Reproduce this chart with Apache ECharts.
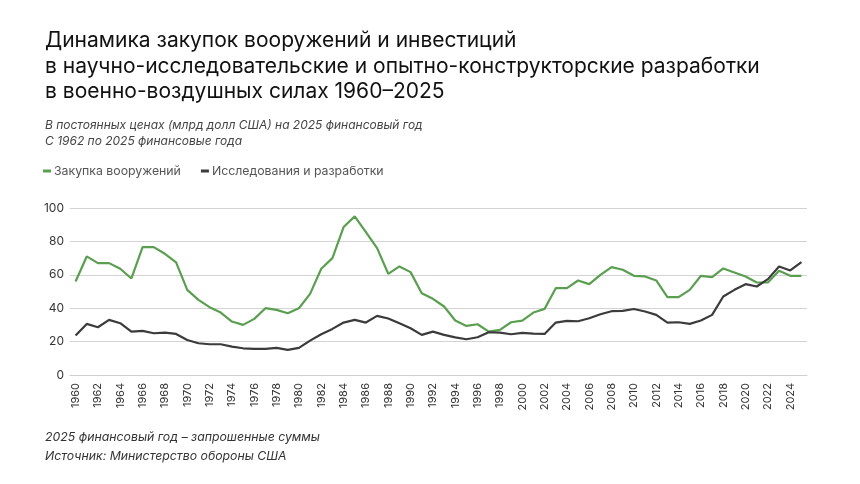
<!DOCTYPE html>
<html>
<head>
<meta charset="utf-8">
<script src="https://cdn.jsdelivr.net/npm/echarts@6/dist/echarts.min.js"></script>
<style>
  html, body { margin: 0; padding: 0; background: #fff; }
  #chart { width: 860px; height: 484px; }
</style>
</head>
<body>
<div id="chart"></div>
<script>
// годы 1960–2025
const years = [];
for (let y = 1960; y <= 2025; y++) years.push(String(y));

// Закупка вооружений, млрд долл
const procurement = [
  56, 71, 67, 67, 63.6, 57.8, 76.6, 76.6, 72.6, 67.4,
  51, 45, 40.6, 37.4, 32, 30, 33.6, 40, 39, 37,
  40, 48.6, 63.6, 70, 88.6, 95, 85.6, 76, 60.6, 65,
  61.6, 49, 45.6, 41, 32.6, 29.4, 30.4, 26, 27, 31.6,
  32.6, 37.4, 39.6, 52, 52, 56.6, 54.4, 60, 64.6, 63,
  59.4, 59, 56.6, 46.6, 46.6, 51, 59.4, 58.6, 63.8, 61.4,
  59, 55.4, 55.4, 62.4, 59.4, 59.4
];

// Исследования и разработки, млрд долл
const rnd = [
  23.6, 30.6, 28.6, 33, 31, 26, 26.4, 25, 25.4, 24.6,
  21, 19, 18.4, 18.4, 17, 16, 15.6, 15.6, 16.2, 15,
  16.2, 20.6, 24.4, 27.6, 31.4, 33, 31.4, 35.4, 33.8, 31,
  28, 24, 26, 24, 22.5, 21.4, 22.6, 25.6, 25.4, 24.4,
  25.2, 24.8, 24.6, 31.4, 32.4, 32.2, 34, 36.4, 38.2, 38.4,
  39.5, 38, 36, 31.4, 31.6, 30.6, 32.6, 36, 47, 51,
  54.4, 53, 57.4, 65, 62.6, 67.6
];

const chart = echarts.init(document.getElementById('chart'));

const option = {
  backgroundColor: '#fff',
  animation: false,
  textStyle: { fontFamily: 'Inter, "Noto Sans", sans-serif' },
  title: [
    {
      text: 'Динамика закупок вооружений и инвестиций\nв научно-исследовательские и опытно-конструкторские разработки\nв военно-воздушных силах 1960–2025',
      left: 40,
      top: 23,
      textStyle: { fontSize: 21, fontWeight: 'normal', color: '#111', lineHeight: 25.5 }
    },
    {
      text: 'В постоянных ценах (млрд долл США) на 2025 финансовый год\nС 1962 по 2025 финансовые года',
      left: 40,
      top: 112,
      textStyle: { fontSize: 12, fontStyle: 'italic', fontWeight: 'normal', color: '#444', lineHeight: 16 }
    },
    {
      text: '2025 финансовый год – запрошенные суммы\nИсточник: Министерство обороны США',
      left: 40,
      top: 423,
      textStyle: { fontSize: 12.3, fontStyle: 'italic', fontWeight: 'normal', color: '#333', lineHeight: 19 }
    }
  ],
  legend: {
    left: 38,
    top: 160,
    icon: 'rect',
    itemWidth: 8,
    itemHeight: 3,
    itemGap: 20,
    textStyle: { fontSize: 12.3, color: '#555', padding: [0, 0, 0, -2] },
    data: ['Закупка вооружений', 'Исследования и разработки']
  },
  grid: { left: 70, right: 53, top: 208, bottom: 109, containLabel: false },
  xAxis: {
    type: 'category',
    data: years,
    boundaryGap: true,
    axisTick: { show: false },
    axisLine: { lineStyle: { color: '#cfcfcf' } },
    axisLabel: { rotate: 90, interval: 1, color: '#333', fontSize: 11, margin: 8 }
  },
  yAxis: {
    type: 'value',
    min: 0,
    max: 100,
    interval: 20,
    axisLine: { show: false },
    axisTick: { show: false },
    splitLine: { lineStyle: { color: '#d3d3d3' } },
    axisLabel: { color: '#333', fontSize: 12, margin: 6 }
  },
  series: [
    {
      name: 'Закупка вооружений',
      type: 'line',
      data: procurement,
      symbol: 'none',
      color: '#5a9e50',
      lineStyle: { width: 2.2, color: '#5a9e50' }
    },
    {
      name: 'Исследования и разработки',
      type: 'line',
      data: rnd,
      symbol: 'none',
      color: '#3b3b3b',
      lineStyle: { width: 2.2, color: '#3b3b3b' }
    }
  ]
};

chart.setOption(option);
</script>
</body>
</html>
